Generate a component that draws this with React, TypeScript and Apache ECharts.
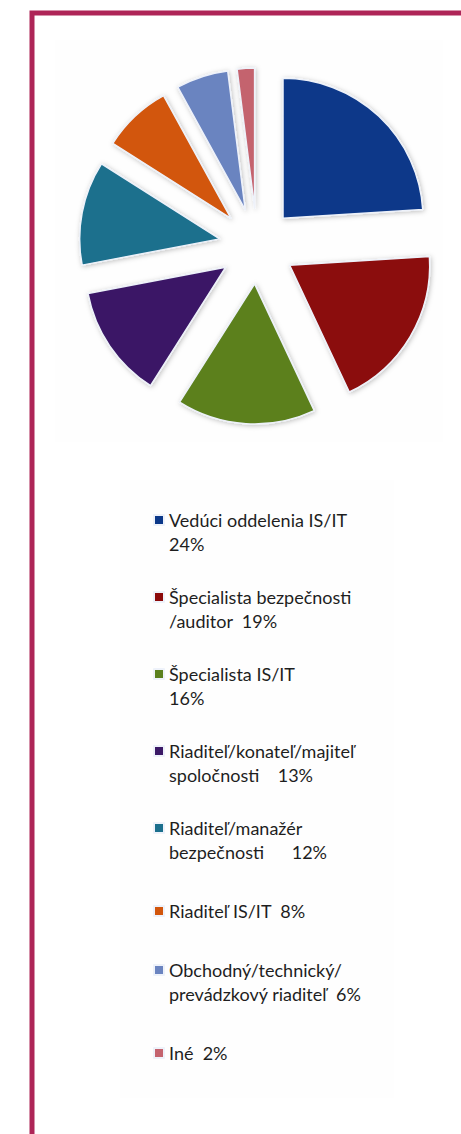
import React, { useEffect, useRef } from "react";
import * as echarts from "echarts";

const categories = [
  "Vedúci oddelenia IS/IT",
  "Špecialista bezpečnosti /auditor",
  "Špecialista IS/IT",
  "Riaditeľ/konateľ/majiteľ spoločnosti",
  "Riaditeľ/manažér bezpečnosti",
  "Riaditeľ IS/IT",
  "Obchodný/technický/ prevádzkový riaditeľ",
  "Iné",
];
const values = [24, 19, 16, 13, 12, 8, 6, 2];
const legendLabels = [
  "Vedúci oddelenia IS/IT\n24%",
  "Špecialista bezpečnosti\n/auditor  19%",
  "Špecialista IS/IT\n16%",
  "Riaditeľ/konateľ/majiteľ\nspoločnosti    13%",
  "Riaditeľ/manažér\nbezpečnosti      12%",
  "Riaditeľ IS/IT  8%",
  "Obchodný/technický/\nprevádzkový riaditeľ  6%",
  "Iné  2%",
];
const colors = [
  "#0b3889",
  "#8b0a0a",
  "#5b801f",
  "#3b1966",
  "#1b6f8d",
  "#d2560c",
  "#6b84c0",
  "#c4636e",
];

// square marker on the first text line for two-line entries, centred for one-line entries
const ICON_TWO_LINES = "path://M0,34 M0,0 L10,0 L10,10 L0,10 Z";
const ICON_ONE_LINE = "path://M0,34 M0,0 M0,12 L10,12 L10,22 L0,22 Z";

export default function App() {
  const ref = useRef<HTMLDivElement>(null);
  useEffect(() => {
    document.body.style.margin = "0";
    const chart = echarts.init(ref.current!, null, { renderer: "svg" });
    const labelMap: Record<string, string> = {};
    categories.forEach((c, i) => (labelMap[c] = legendLabels[i]));
    chart.setOption({
      animation: false,
      backgroundColor: "#ffffff",
      color: colors,
      graphic: [
        {
          type: "rect",
          shape: { x: 55, y: 40, width: 388, height: 402 },
          style: { fill: "#fefefe" },
          silent: true,
          z: -10,
        },
        {
          type: "rect",
          shape: { x: 120, y: 480, width: 274, height: 618 },
          style: { fill: "#fefefe" },
          silent: true,
          z: -10,
        },
        {
          type: "rect",
          shape: { x: 32, y: 13, width: 600, height: 1300 },
          style: { fill: "none", stroke: "#ae2557", lineWidth: 5 },
          silent: true,
          z: 10,
        },
      ],
      legend: {
        orient: "vertical",
        left: 153,
        top: 508,
        padding: 0,
        itemWidth: 10,
        itemHeight: 34,
        itemGap: 29,
        selectedMode: false,
        data: categories.map((c, i) => ({
          name: c,
          icon: legendLabels[i].indexOf("\n") >= 0 ? ICON_TWO_LINES : ICON_ONE_LINE,
        })),
        formatter: (name: string) => labelMap[name],
        textStyle: {
          fontFamily: "Lato",
          fontSize: 18,
          lineHeight: 24,
          color: "#1e1e1e",
        },
      },
      series: [
        {
          type: "pie",
          center: [257, 246],
          radius: [0, 140],
          startAngle: 90,
          clockwise: true,
          selectedMode: "multiple",
          selectedOffset: 38,
          label: { show: false },
          labelLine: { show: false },
          emphasis: { disabled: true },
          itemStyle: {
            borderColor: "#eef2fa",
            borderWidth: 1.5,
            shadowBlur: 5,
            shadowColor: "rgba(0,0,0,0.25)",
            shadowOffsetX: 1,
            shadowOffsetY: 1,
          },
          data: categories.map((c, i) => ({
            name: c,
            value: values[i],
            selected: true,
          })),
        },
      ],
    });
    return () => chart.dispose();
  }, []);
  return <div ref={ref} style={{ width: 461, height: 1134 }} />;
}
